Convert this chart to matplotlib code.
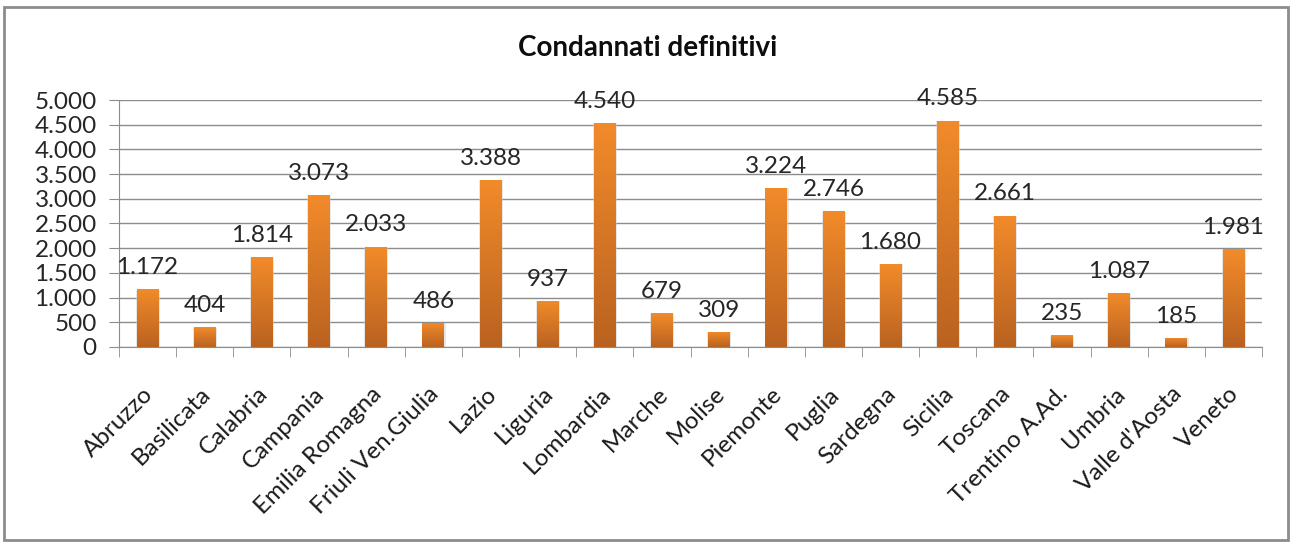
import numpy as np
import matplotlib.pyplot as plt
import matplotlib.transforms as mtransforms
from matplotlib.colors import LinearSegmentedColormap
from matplotlib.patches import Rectangle

regioni = ['Abruzzo', 'Basilicata', 'Calabria', 'Campania', 'Emilia Romagna',
           'Friuli Ven.Giulia', 'Lazio', 'Liguria', 'Lombardia', 'Marche',
           'Molise', 'Piemonte', 'Puglia', 'Sardegna', 'Sicilia', 'Toscana',
           'Trentino A.Ad.', 'Umbria', "Valle d'Aosta", 'Veneto']
condannati = [1172, 404, 1814, 3073, 2033, 486, 3388, 937, 4540, 679,
              309, 3224, 2746, 1680, 4585, 2661, 235, 1087, 185, 1981]
yticks = list(range(0, 5001, 500))

plt.rcParams['font.family'] = ['Lato', 'DejaVu Sans']


def fmt(v):
    return f'{v:,}'.replace(',', '.')


fig = plt.figure(figsize=(12.92, 5.43), dpi=100)
ax = fig.add_axes([0.0921, 0.361, 0.8847, 0.4548])

x = np.arange(len(regioni))
width = 0.38
bars = ax.bar(x, condannati, width=width, color='none', edgecolor='none', zorder=3)

cmap = LinearSegmentedColormap.from_list('arancio', ['#b96220', '#f28b2a'])
grad = np.linspace(0, 1, 256).reshape(-1, 1)
for b in bars:
    h = b.get_height()
    x0 = b.get_x()
    # light shadow
    ax.add_patch(Rectangle((x0 - 0.015, -30), width + 0.04, h + 20, facecolor='#d0d0d0',
                           edgecolor='none', alpha=0.5, zorder=2))
    im = ax.imshow(grad, cmap=cmap, aspect='auto', origin='lower',
                   extent=(x0, x0 + width, 0, h), zorder=3)
    im.set_clip_path(b)

for xi, v in zip(x, condannati):
    ax.annotate(fmt(v), (xi, v), xytext=(0, 8), textcoords='offset points',
                ha='center', va='bottom', fontsize=17.5, color='#262626', zorder=4)

ax.set_xlim(-0.5, len(regioni) - 0.5)
ax.set_ylim(0, 5000)
ax.set_yticks(yticks)
ax.set_yticklabels([fmt(t) for t in yticks], fontsize=17.5, color='#262626')
ax.yaxis.grid(True, color='#8c8c8c', linewidth=1)
ax.set_axisbelow(True)
ax.tick_params(axis='y', length=7, color='#8c8c8c', pad=9)

ax.set_xticks(x)
ax.set_xticklabels(regioni, rotation=45, ha='right', rotation_mode='anchor',
                   fontsize=17.5, color='#1a1a1a')
ax.set_xticks(np.arange(-0.5, len(regioni)), minor=True)
ax.tick_params(axis='x', which='major', length=0, pad=26)
ax.tick_params(axis='x', which='minor', length=7, color='#8c8c8c')
shift = mtransforms.ScaledTranslation(-5 / 100, 0, fig.dpi_scale_trans)
for lab in ax.get_xticklabels():
    lab.set_transform(lab.get_transform() + shift)

for s in ['top', 'right']:
    ax.spines[s].set_visible(False)
for s in ['left', 'bottom']:
    ax.spines[s].set_color('#8c8c8c')

fig.text(0.501, 0.912, 'Condannati definitivi', ha='center', va='center',
         fontsize=20, fontweight='bold', color='#0d0d0d')

fig.patches.append(Rectangle((4 / 1292, 3 / 543), 1284 / 1292, 533 / 543,
                             transform=fig.transFigure, fill=False,
                             edgecolor='#8c8c8c', linewidth=2))

fig.savefig('out.png', dpi=100)
